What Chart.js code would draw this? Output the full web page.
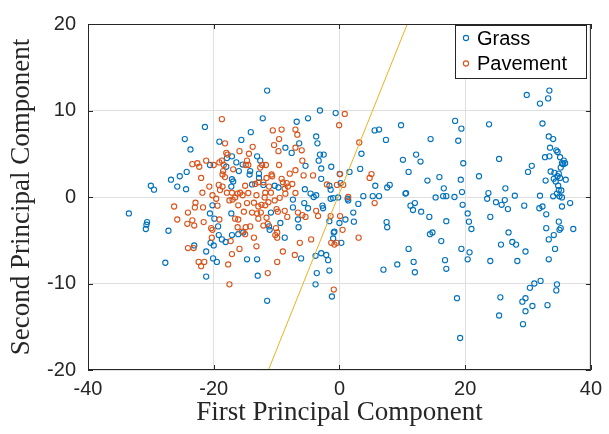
<!DOCTYPE html>
<html lang="en">
<head>
  <meta charset="UTF-8">
  <title>PCA scatter</title>
  <script src="https://cdn.jsdelivr.net/npm/chart.js"></script>
  <style>
    body { margin: 0; background: #fff; }
    #chart { display: block; }
  </style>
</head>
<body>
<canvas id="chart" width="609" height="434"></canvas>
<script>
// tick values
const xTicks = [-40, -20, 0, 20, 40];
const yTicks = [-20, -10, 0, 10, 20];

// Grass points [first PC, second PC]
const grassPts = [
  [-24.6,6.7],[-24.3,2.9],[-25.4,2.4],[-26.8,2.0],[-30.0,1.3],[-29.5,0.85],[-25.8,1.2],[-24.4,0.9],
  [-33.5,-1.9],[-30.6,-2.9],[-30.7,-3.2],[-30.8,-3.7],[-27.2,-3.9],[-27.7,-7.6],
  [-11.5,12.3],[-3.1,10.0],[-0.6,9.7],
  [-12.2,9.1],[-6.8,8.7],[-5.0,9.1],[-21.4,8.1],[-14.1,7.5],[-15.6,6.6],[-19.1,6.4],[-23.7,5.5],
  [-3.7,7.0],[-3.5,6.2],[-6.4,6.2],[-8.6,5.7],[-7.6,5.1],[-3.1,4.9],[-2.5,4.9],[-17.1,4.7],
  [-17.9,4.5],[-13.1,4.7],[-12.6,4.2],[-16.4,4.0],[-3.3,4.2],[-5.4,3.6],[-20.6,3.7],[-18.0,3.5],
  [-15.4,3.75],[-16.0,3.0],[-14.2,3.0],[-14.3,2.6],[-12.8,2.7],[-12.8,2.2],[-2.9,3.3],[-1.3,3.5],
  [-2.9,2.1],[0.05,2.66],[-17.1,2.05],[-16.9,1.8],[-17.2,1.2],[-13.9,1.45],[-10.3,1.3],[-9.7,1.1],
  [-12.1,1.4],[-5.5,0.9],[-4.6,0.4],[-3.7,0.2],[-1.6,1.3],[-1.4,0.85],[0.2,1.6],
  [-20.2,-0.96],[-17.2,-1.9],[-20.6,-1.9],[-19.9,-2.5],[-19.3,-3.4],[-10.9,-1.8],[-7.4,-1.2],
  [-7.4,-0.3],[-5.6,-0.7],[-5.0,-1.3],[-2.7,-1.0],[-2.6,-1.3],[-1.4,-0.2],[-1.0,-0.13],[-4.1,0.0],
  [-6.6,-2.6],[-6.5,-3.5],[-1.6,-2.8],[0.0,-3.0],[-0.8,-4.0],[-0.9,-4.1],[-1.0,-4.8],[0.3,-5.3],
  [-8.7,-4.7],[-9.4,-3.0],[-11.2,-3.4],[-11.1,-3.8],[-15.3,-4.1],[-17.1,-4.4],[-16.1,-4.3],
  [-19.2,-4.4],[-18.7,-4.9],[-18.1,-5.2],[-20.5,-5.3],[-20.0,-5.6],[-23.1,-5.6],[-21.2,-6.3],
  [-20.1,-7.1],[-19.5,-7.5],[-14.7,-7.2],[-13.1,-7.2],[-6.1,-7.1],[-3.8,-6.8],[-2.9,-6.5],
  [-2.1,-6.7],[-1.8,-7.3],[-1.6,-8.5],[-3.6,-8.8],[-21.2,-9.2],[-13.0,-9.1],[-0.2,-0.05],
  [-11.5,-12.0],[-3.8,-10.1],[-1.2,-11.5],
  [3.8,0.1],[5.3,0.1],[6.3,0.1],[10.5,0.4],[15.3,-0.05],[16.5,0.1],[17.0,0.1],[18.3,0.0],
  [19.6,-0.9],[1.3,-0.2],[1.4,-0.4],[3.0,-0.8],[2.2,-1.8],[0.95,-2.6],[2.3,-2.85],[11.3,-1.0],
  [12.0,-0.7],[11.7,-1.5],[13.0,-1.7],[14.3,-2.3],[17.0,-2.8],[7.5,-2.9],[7.6,-3.5],[14.4,-4.3],
  [14.8,-4.1],[16.2,-5.1],[11.0,-6.0],[19.4,-6.0],[9.2,-7.8],[11.8,-7.5],[16.8,-7.3],[7.0,-8.4],
  [12.0,-8.7],[17.0,-8.3],[18.7,-11.7],[19.2,-16.3],
  [9.8,8.3],[5.6,7.7],[6.3,7.8],[18.4,8.8],[19.4,7.9],[7.4,6.6],[14.5,6.7],[18.9,6.5],[3.5,5.0],
  [10.1,4.3],[12.2,4.9],[12.9,4.1],[19.7,3.9],[3.3,3.25],[1.6,2.9],[11.0,2.9],[15.9,2.3],
  [14.0,1.9],[19.3,2.0],[5.7,1.3],[8.0,1.4],[7.6,1.1],[10.6,0.45],[16.6,1.0],[19.5,0.57],
  [29.8,11.8],[33.4,12.3],[33.2,11.4],[31.9,10.8],[23.8,8.4],[32.3,8.5],[33.3,7.0],[34.0,6.7],
  [33.5,5.7],[34.5,5.4],[34.7,5.2],[32.7,4.6],[33.4,4.7],[35.1,4.6],[35.4,3.9],[35.7,4.2],
  [35.9,3.9],[35.2,3.4],[35.6,3.8],[25.4,4.4],[30.6,3.6],[30.0,2.9],[33.6,2.95],[34.2,2.8],
  [34.7,2.4],[34.9,2.7],[22.2,2.4],[32.8,1.9],[34.1,2.1],[34.4,1.8],[35.1,2.2],[36.0,2.0],
  [34.8,1.3],[35.3,0.75],[34.9,0.8],[26.4,1.0],[23.7,0.45],[27.9,0.15],[31.9,0.15],[34.0,0.08],
  [35.0,0.08],[34.6,0.4],[35.4,-0.05],
  [23.5,-0.2],[24.9,-0.6],[26.3,-0.36],[25.8,-0.9],[29.4,-1.0],[26.8,-1.4],[31.8,-1.3],
  [32.3,-1.1],[35.4,-1.1],[36.7,-0.7],[20.4,-1.9],[20.6,-2.85],[21.0,-3.7],[24.0,-2.3],
  [32.9,-2.0],[34.9,-2.85],[32.9,-3.6],[35.0,-3.8],[35.2,-3.6],[37.2,-3.7],[34.1,-4.4],
  [33.3,-4.9],[26.9,-4.1],[27.5,-5.2],[28.1,-5.5],[25.7,-5.5],[20.7,-6.4],[20.4,-7.2],
  [24.0,-7.4],[28.3,-7.4],[29.6,-6.3],[33.3,-7.2],[34.3,-6.0],[32.0,-9.7],[31.0,-10.0],
  [30.3,-10.5],[34.6,-10.1],[34.5,-10.8],[25.6,-11.6],[29.6,-11.7],[29.1,-12.1],[30.7,-12.6],
  [33.1,-12.5],[29.6,-13.2],[25.4,-13.7],[29.2,-14.7]
];

// Pavement points
const pavePts = [
  [-26.3,-1.1],[-24.1,-1.8],[-25.8,-2.6],[-24.2,-3.1],[-24.1,-5.9],
  [-18.7,9.0],[-10.6,7.7],[-9.2,7.8],[-7.0,7.8],[-6.7,7.2],[-9.6,6.7],[-0.05,8.3],[-10.4,6.0],
  [-9.7,5.3],[-7.0,5.7],[-6.0,5.4],[-13.8,5.8],[-14.4,5.0],[-15.9,5.3],[-18.2,6.2],[-18.0,5.1],
  [-17.8,4.9],[-21.2,4.2],[-23.4,3.8],[-22.6,3.9],[-22.3,3.5],[-20.0,3.7],[-19.1,4.0],[-18.7,4.2],
  [-18.4,3.7],[-14.7,4.2],[-14.9,3.7],[-14.5,3.7],[-12.3,3.7],[-11.7,3.7],[-12.6,3.4],[-9.6,3.7],
  [-5.9,4.2],[-18.5,3.0],[-18.6,2.6],[-18.2,2.3],[-22.0,2.2],[-16.9,3.2],[-10.8,2.6],[-10.7,2.4],
  [-11.6,2.2],[-12.1,1.7],[-9.2,2.1],[-9.0,1.7],[-8.4,1.6],[-7.9,2.7],[-7.0,3.1],[-7.5,1.5],
  [-8.2,1.2],[-5.7,2.5],[-4.2,2.5],[-13.4,1.5],[-12.9,1.7],[-15.0,1.3],[-15.8,0.5],[-16.2,0.4],
  [-17.9,0.5],[-19.0,0.8],[-19.2,1.4],[-18.6,1.2],[-20.7,1.2],[-21.8,0.5],[-20.2,0.2],[-11.2,1.2],
  [-11.8,0.5],[-10.9,0.5],[-8.7,0.96],[-8.6,0.39],[-7.0,0.46],[-2.0,1.45],[-0.4,1.4],[-14.5,0.46],
  [-13.2,0.2],[-15.4,0.2],[-17.1,0.5],
  [-22.9,-0.66],[-21.7,-1.2],[-23.0,-1.2],[-19.6,-0.2],[-19.4,-1.0],[-17.5,-0.4],[-17.0,-0.3],
  [-16.6,-0.05],[-16.1,-0.96],[-14.7,-0.7],[-13.6,-0.66],[-12.9,-1.1],[-12.4,-0.9],[-11.8,-0.96],
  [-11.3,-0.6],[-11.9,-0.05],[-10.3,-0.4],[-9.5,-0.1],[-12.5,-1.8],[-13.1,-1.9],[-11.6,-2.4],
  [-12.9,-2.5],[-13.9,-1.8],[-15.2,-1.7],[-16.6,-2.5],[-16.1,-2.6],[-10.0,-1.4],[-9.8,-1.7],
  [-8.3,-2.3],[-8.7,-1.6],[-6.6,-1.8],[-5.9,-2.1],[-5.4,-2.3],[-3.7,-1.6],[-3.4,-2.2],[-1.4,-2.2],
  [0.1,-2.2],[-23.4,-2.7],[-23.1,-3.3],[-21.6,-2.9],[-20.4,-3.6],[-20.2,-3.8],[-20.3,-4.7],
  [-19.1,-2.6],[-16.2,-3.5],[-15.5,-4.0],[-14.9,-3.5],[-14.2,-3.4],[-15.0,-4.3],[-12.1,-3.3],
  [-11.4,-3.1],[-10.1,-3.6],[-9.9,-4.1],[-10.2,-4.4],[-9.9,-4.7],[-13.6,-4.7],[-17.3,-5.1],
  [-13.2,-5.7],[-6.3,-5.3],[-4.5,-4.9],[-1.3,-5.3],[-0.8,-5.5],[-0.4,-5.3],[-23.2,-5.9],
  [-17.1,-6.6],[-15.9,-6.0],[-9.0,-6.3],[-7.1,-6.7],[-22.4,-7.5],[-21.5,-7.5],[-22.0,-8.0],
  [-17.7,-7.8],[-9.9,-7.5],[-11.4,-8.8],
  [-17.5,-10.1],[-0.9,-10.7],
  [5.6,-0.7],[3.05,-4.7],[0.5,-3.8],[1.4,0.0],
  [0.85,9.6],[3.15,6.3],[5.1,2.65],[4.8,2.2],[0.1,2.65],[0.6,1.4]
];

// yellow decision line end points
const lineX = [-11.3, 10.8];
const lineY = [-20, 20];

const toXY = pts => pts.map(p => ({ x: p[0], y: p[1] }));
const linePts = lineX.map((x, i) => ({ x: x, y: lineY[i] }));

const axisColor = '#262626';
const tickFont = { family: 'Liberation Sans, Arial, sans-serif', size: 20 };
const titleFont = { family: 'Liberation Serif, Times New Roman, serif', size: 27 };

// box around the axes, inward ticks, legend
const axesExtras = {
  id: 'axesExtras',
  afterDatasetsDraw(chart) {
    const { ctx, chartArea: a, scales: { x, y } } = chart;
    ctx.save();
    ctx.strokeStyle = axisColor;
    ctx.lineWidth = 1;
    ctx.strokeRect(a.left + 0.5, a.top + 0.5, a.right - a.left - 1, a.bottom - a.top - 1);
    ctx.beginPath();
    xTicks.forEach(t => {
      const px = Math.round(x.getPixelForValue(t)) + 0.5;
      ctx.moveTo(px, a.bottom); ctx.lineTo(px, a.bottom - 5);
      ctx.moveTo(px, a.top); ctx.lineTo(px, a.top + 5);
    });
    yTicks.forEach(t => {
      const py = Math.round(y.getPixelForValue(t)) + 0.5;
      ctx.moveTo(a.left, py); ctx.lineTo(a.left + 5, py);
      ctx.moveTo(a.right, py); ctx.lineTo(a.right - 5, py);
    });
    ctx.stroke();

    // legend
    const lx = 455, ly = 25, lw = 131, lh = 53;
    ctx.fillStyle = '#fff';
    ctx.fillRect(lx, ly, lw, lh);
    ctx.strokeStyle = axisColor;
    ctx.strokeRect(lx + 0.5, ly + 0.5, lw, lh);
    const items = [['Grass', '#0072BD', 38], ['Pavement', '#D95319', 63.5]];
    ctx.font = '20px Liberation Sans, Arial, sans-serif';
    ctx.textBaseline = 'middle';
    items.forEach(it => {
      ctx.beginPath();
      ctx.strokeStyle = it[1];
      ctx.lineWidth = 1.1;
      ctx.arc(466, it[2], 2.6, 0, Math.PI * 2);
      ctx.stroke();
      ctx.fillStyle = '#000';
      ctx.fillText(it[0], 477, it[2] + 1);
    });
    ctx.restore();
  }
};

const ctx = document.getElementById('chart').getContext('2d');
const chart = new Chart(ctx, {
  type: 'scatter',
  data: {
    datasets: [
      {
        label: 'Boundary',
        data: linePts,
        showLine: true,
        borderColor: '#EDB120',
        borderWidth: 1,
        pointRadius: 0,
        order: 0
      },
      {
        label: 'Pavement',
        data: toXY(pavePts),
        borderColor: '#D95319',
        backgroundColor: 'rgba(0,0,0,0)',
        borderWidth: 1.1,
        pointRadius: 2.6,
        order: 1
      },
      {
        label: 'Grass',
        data: toXY(grassPts),
        borderColor: '#0072BD',
        backgroundColor: 'rgba(0,0,0,0)',
        borderWidth: 1.1,
        pointRadius: 2.6,
        order: 2
      }
    ]
  },
  options: {
    responsive: false,
    animation: false,
    layout: { padding: { top: 17, right: 13, left: 0, bottom: 0 } },
    plugins: { legend: { display: false }, tooltip: { enabled: false } },
    scales: {
      x: {
        type: 'linear', min: -40, max: 40,
        afterBuildTicks: s => { s.ticks = xTicks.map(v => ({ value: v })); },
        afterFit: s => { s.height = 64; },
        ticks: { font: tickFont, color: axisColor, padding: 7 },
        grid: { color: '#dfdfdf', drawTicks: false },
        border: { display: false },
        title: { display: true, text: 'First Principal Component', font: titleFont, color: axisColor, padding: { top: 0, bottom: 5 } }
      },
      y: {
        type: 'linear', min: -20, max: 20,
        afterBuildTicks: s => { s.ticks = yTicks.map(v => ({ value: v })); },
        afterFit: s => { s.width = 88; },
        ticks: { font: tickFont, color: axisColor, padding: 12 },
        grid: { color: '#dfdfdf', drawTicks: false },
        border: { display: false },
        title: { display: true, text: 'Second Principal Component', font: titleFont, color: axisColor, padding: { top: 6, bottom: 0 } }
      }
    }
  },
  plugins: [axesExtras]
});
</script>
</body>
</html>
